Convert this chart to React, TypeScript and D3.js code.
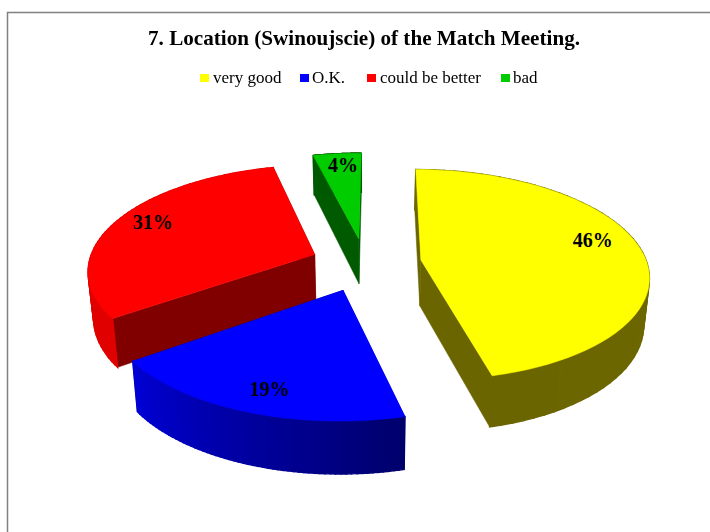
import React from "react";
import * as d3 from "d3";

const categories = ["very good", "O.K.", "could be better", "bad"];
const values = [46, 19, 31, 4];
const topColors = ["#ffff00", "#0000ff", "#ff0000", "#00cc00"];
const sideFrom = ["#6f6a00", "#00006a", "#e00000", "#005a00"];
const sideTo = ["#6b6500", "#0000d4", "#dd0000", "#005a00"];
const startFace = ["#6b6500", "#0000d4", "#800000", "#005a00"];
const endFace = ["#6b6500", "#00006a", "#800000", "#005a00"];
const explodeBy = [0.25, 0.27, 0.24, 0.24];
const legendX = [200, 300, 367, 501];
const legendTextX = [213, 312, 380, 513];
const labelNudge: [number, number][] = [[7, -11], [-3, 11], [-12, -7], [1, -8]];
const drawOrder = [3, 2, 0, 1];

const W = 710, H = 532;
const cx = 365, cy = 263, R = 226, Ry = 104, persp = 0.14, depth = 46;

function project(u: number, v: number, z = 0): [number, number] {
  const w = 1 - persp * v;
  const x = cx + ((R * u) / w) * (1 - 0.02 * z);
  const y = cy + (Ry * v) / w + z * depth * (1 + 0.12 * v);
  return [x, y];
}

const start = (0.5 * Math.PI) / 180;
const pie = d3.pie<number>().sort(null).startAngle(start).endAngle(start + 2 * Math.PI);
const arcs = pie(values);
const line = d3.line<[number, number]>();

export default function App() {
  const font = "'Liberation Serif','Times New Roman',serif";
  return (
    <svg width={W} height={H} style={{ position: "fixed", left: 0, top: 0, background: "#fff" }}>
      <defs>
        <filter id="soft" x="-5%" y="-20%" width="110%" height="140%">
          <feGaussianBlur stdDeviation="0.35" />
        </filter>
      </defs>
      <path d={`M${W},12.5H7.5V${H}`} fill="none" stroke="#808080" strokeWidth={1.5} />
      <g filter="url(#soft)">
        <text x={364} y={45} textAnchor="middle" fontFamily={font} fontWeight="bold" fontSize={21}
          textLength={432} lengthAdjust="spacingAndGlyphs" fill="#000">
          7. Location (Swinoujscie) of the Match Meeting.
        </text>
        {categories.map((c, i) => (
          <text key={c} x={legendTextX[i]} y={83} fontFamily={font} fontSize={17} fill="#000">{c}</text>
        ))}
      </g>
      {categories.map((c, i) => (
        <rect key={c} x={legendX[i]} y={74} width={9} height={8} fill={topColors[i]} />
      ))}
      {drawOrder.map((i) => {
        const a = arcs[i];
        const mid = (a.startAngle + a.endAngle) / 2;
        const ou = explodeBy[i] * Math.sin(mid), ov = -explodeBy[i] * Math.cos(mid);
        const pt = (t: number, r = 1, z = 0) => project(ou + r * Math.sin(t), ov - r * Math.cos(t), z);
        const ts = d3.range(0, 61).map((k) => a.startAngle + ((a.endAngle - a.startAngle) * k) / 60);
        const shade = d3.scaleLinear<string>().domain([a.startAngle, a.endAngle]).range([sideFrom[i], sideTo[i]]);
        const top = [pt(0, 0), ...ts.map((t) => pt(t))];
        const face = (t: number) => [pt(t, 0), pt(t), pt(t, 1, 1), pt(t, 0, 1)];
        const lab = pt(mid, 0.75);
        return (
          <g key={i}>
            <path d={line(face(a.startAngle))! + "Z"} fill={startFace[i]} stroke={startFace[i]} strokeWidth={0.5} />
            <path d={line(face(a.endAngle))! + "Z"} fill={endFace[i]} stroke={endFace[i]} strokeWidth={0.5} />
            {ts.slice(1).map((t, k) => {
              const c = shade(t);
              return (
                <path key={k} d={line([pt(ts[k]), pt(t), pt(t, 1, 1), pt(ts[k], 1, 1)])! + "Z"} fill={c} stroke={c} strokeWidth={1.4} />
              );
            })}
            <path d={line(top)! + "Z"} fill={topColors[i]} stroke={topColors[i]} strokeWidth={0.5} />
            <text x={lab[0] + labelNudge[i][0]} y={lab[1] + labelNudge[i][1]} textAnchor="middle" dominantBaseline="central"
              fontFamily={font} fontWeight="bold" fontSize={20} fill="#000">
              {d3.format(".0f")(values[i])}%
            </text>
          </g>
        );
      })}
    </svg>
  );
}
